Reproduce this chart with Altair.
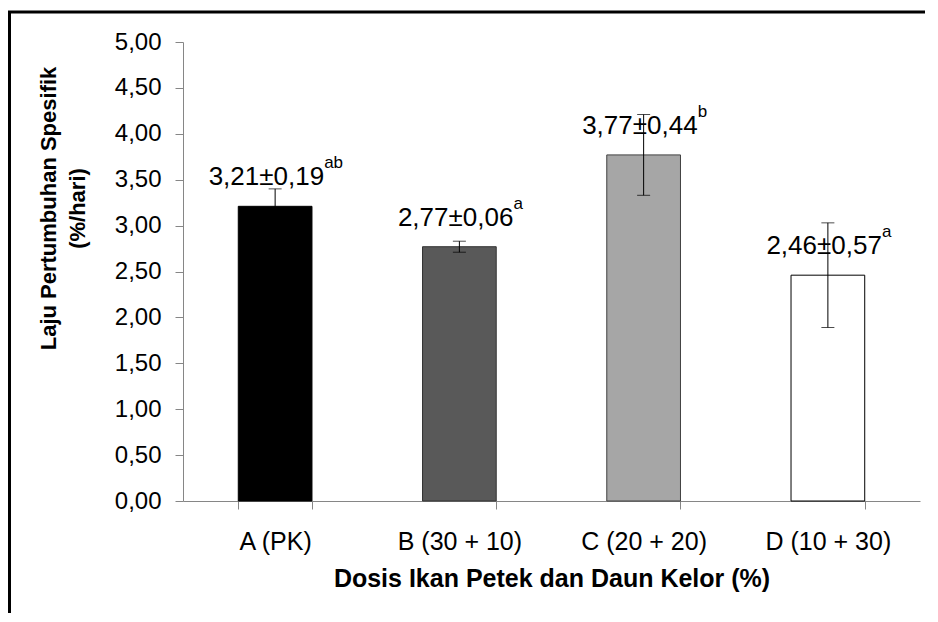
import altair as alt
import pandas as pd

categories = ["A (PK)", "B (30 + 10)", "C (20 + 20)", "D (10 + 30)"]
means = [3.21, 2.77, 3.77, 2.46]
sds = [0.19, 0.06, 0.44, 0.57]
letters = ["ab", "a", "b", "a"]
y_ticks = [0, 0.5, 1, 1.5, 2, 2.5, 3, 3.5, 4, 4.5, 5]

fills = ["#000000", "#595959", "#a6a6a6", "#ffffff"]
strokes = ["#000000", "#333333", "#404040", "#000000"]

FONT = "Arial, Liberation Sans"
W, H = 737, 459

df = pd.DataFrame({"cat": categories, "mean": means, "sd": sds, "sup": letters})

base = alt.Chart(df).transform_calculate(
    lo="datum.mean - datum.sd",
    hi="datum.mean + datum.sd",
    label="replace(format(datum.mean, '.2f'), '.', ',') + '±' + replace(format(datum.sd, '.2f'), '.', ',')",
    suplen="length(datum.sup)",
)

x_enc = alt.X(
    "cat:N",
    sort=categories,
    scale=alt.Scale(paddingInner=0.6, paddingOuter=0.3),
    axis=alt.Axis(
        title="Dosis Ikan Petek dan Daun Kelor (%)",
        labelAngle=0,
        tickBand="extent",
        domainColor="#868686",
        tickColor="#868686",
        tickSize=8,
        labelPadding=20,
        labelFontSize=25,
        labelFont=FONT,
        labelColor="#000000",
        titleFont=FONT,
        titleFontSize=25,
        titleFontWeight="bold",
        titleColor="#000000",
        titlePadding=12,
        grid=False,
    ),
)

y_scale = alt.Scale(domain=[0, 5], nice=False, zero=True)

bars = base.mark_bar(strokeWidth=1).encode(
    x=x_enc,
    y=alt.Y(
        "mean:Q",
        scale=y_scale,
        axis=alt.Axis(
            values=y_ticks,
            title=["Laju Pertumbuhan Spesifik", "(%/hari)"],
            labelExpr="replace(format(datum.value, '.2f'), '.', ',')",
            domainColor="#868686",
            tickColor="#868686",
            tickSize=8,
            labelPadding=14,
            labelFontSize=24,
            labelFont=FONT,
            labelColor="#000000",
            titleFont=FONT,
            titleFontSize=22,
            titleFontWeight="bold",
            titleColor="#000000",
            titleAngle=270,
            titleAlign="center",
            titleBaseline="middle",
            titleLineHeight=29,
            titleX=-135,
            titleY=166,
            grid=False,
        ),
    ),
    fill=alt.Color("cat:N", scale=alt.Scale(domain=categories, range=fills), legend=None),
    stroke=alt.Color("cat:N", scale=alt.Scale(domain=categories, range=strokes), legend=None),
)

err_rule = base.mark_rule(color="#000000", strokeWidth=1).encode(
    x=alt.X("cat:N", sort=categories),
    y=alt.Y("lo:Q", scale=y_scale),
    y2="hi:Q",
)
cap_lo = base.mark_tick(color="#000000", size=13, thickness=1).encode(
    x=alt.X("cat:N", sort=categories),
    y=alt.Y("lo:Q", scale=y_scale),
)
cap_hi = base.mark_tick(color="#000000", size=13, thickness=1).encode(
    x=alt.X("cat:N", sort=categories),
    y=alt.Y("hi:Q", scale=y_scale),
)


def label_layers(filter_expr, dx):
    sub = base.transform_filter(filter_expr)
    main = sub.mark_text(
        align="right", baseline="alphabetic", dx=dx, dy=-21,
        font=FONT, fontSize=26, color="#000000",
    ).encode(
        x=alt.X("cat:N", sort=categories),
        y=alt.Y("mean:Q", scale=y_scale),
        text="label:N",
    )
    sup = sub.mark_text(
        align="left", baseline="alphabetic", dx=dx, dy=-38,
        font=FONT, fontSize=17, color="#000000",
    ).encode(
        x=alt.X("cat:N", sort=categories),
        y=alt.Y("mean:Q", scale=y_scale),
        text="sup:N",
    )
    return [main, sup]


labels_two = label_layers("datum.suplen == 2", 49)
labels_one = label_layers("datum.suplen == 1", 54)

frame = alt.Chart(pd.DataFrame({"k": [0]})).mark_rect(
    fill=None, filled=False, stroke="#000000", strokeWidth=3
).encode(
    x=alt.value(-173.5),
    x2=alt.value(W + 60),
    y=alt.value(-30),
    y2=alt.value(H + 200),
)

chart = alt.layer(
    bars, err_rule, cap_lo, cap_hi, *labels_two, *labels_one, frame
).properties(
    width=W,
    height=H,
    autosize=alt.AutoSizeParams(type="none"),
    padding={"left": 175, "top": 34, "right": 5, "bottom": 112},
    background="#ffffff",
).configure_view(stroke=None)

chart.save("out.html", embed_options={"renderer": "svg", "actions": False})
